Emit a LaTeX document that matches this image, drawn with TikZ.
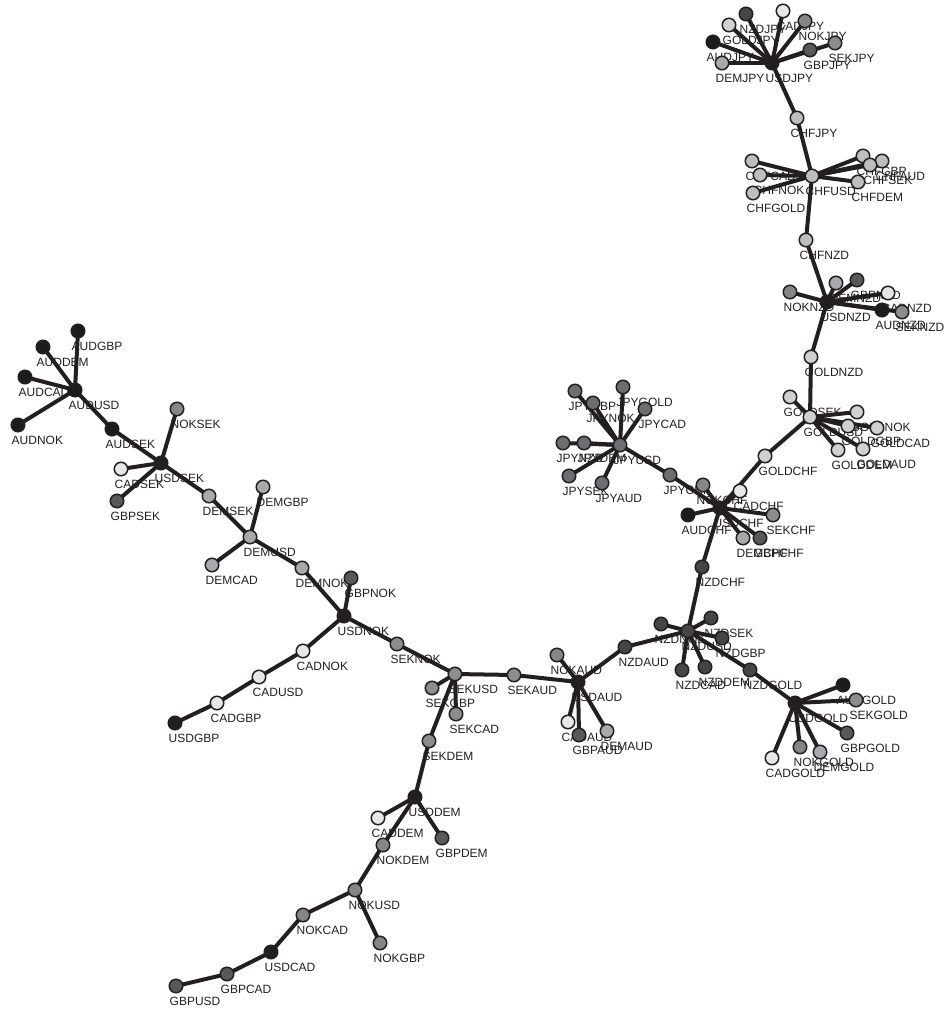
\documentclass[tikz,border=0pt]{standalone}
\usepackage{fontspec}
\setmainfont{Liberation Sans}
\usetikzlibrary{calc}
\pgfdeclarelayer{lab}
\pgfdeclarelayer{edg}
\pgfsetlayers{lab,edg,main}
\definecolor{cUSD}{HTML}{231F20}
\definecolor{cAUD}{HTML}{1E1B1C}
\definecolor{cGBP}{HTML}{58595B}
\definecolor{cNZD}{HTML}{454546}
\definecolor{cJPY}{HTML}{6D6E71}
\definecolor{cSEK}{HTML}{8C8D8F}
\definecolor{cNOK}{HTML}{858688}
\definecolor{cDEM}{HTML}{A7A9AC}
\definecolor{cCHF}{HTML}{BCBEC0}
\definecolor{cGOLD}{HTML}{CFD0D2}
\definecolor{cCAD}{HTML}{E6E7E8}
\definecolor{ink}{HTML}{231F20}
\tikzset{
  fxc/.style={circle,draw=ink,line width=1.5pt,minimum size=13.5pt,inner sep=0pt},
  fxl/.style={anchor=base west,inner sep=0pt,text=ink,font=\fontsize{12}{13}\selectfont},
  fxe/.style={draw=ink,line width=4pt}
}
\newcommand\fxnode[4]{%
  \node[fxc,fill=c#4] (#1) at (#2,#3) {};
  \begin{pgfonlayer}{lab}\node[fxl] (#1-l) at (#2-6.5,#3+19.5) {#1};\end{pgfonlayer}}
\begin{document}
\begin{tikzpicture}[x=1pt,y=-1pt]
\useasboundingbox (0,0) rectangle (944,1011);
% top cluster
\fxnode{USDJPY}{772}{63}{USD}
\fxnode{DEMJPY}{722}{63}{DEM}
\fxnode{AUDJPY}{713}{42}{AUD}
\fxnode{GOLDJPY}{729}{25}{GOLD}
\fxnode{NZDJPY}{746}{14}{NZD}
\fxnode{CADJPY}{783}{11}{CAD}
\fxnode{NOKJPY}{805}{21}{NOK}
\fxnode{GBPJPY}{810}{50}{GBP}
\fxnode{SEKJPY}{835}{43}{SEK}
\fxnode{CHFJPY}{797}{118}{CHF}
% CHF cluster
\fxnode{CHFUSD}{812}{176}{CHF}
\fxnode{CHFCAD}{752}{161}{CHF}
\fxnode{CHFNOK}{760}{175}{CHF}
\fxnode{CHFGOLD}{753}{193}{CHF}
\fxnode{CHFGBP}{863}{156}{CHF}
\fxnode{CHFAUD}{882}{161}{CHF}
\fxnode{CHFSEK}{870}{165}{CHF}
\fxnode{CHFDEM}{858}{182}{CHF}
\fxnode{CHFNZD}{806}{240}{CHF}
% NZD cluster
\fxnode{USDNZD}{827}{302}{USD}
\fxnode{NOKNZD}{790}{292}{NOK}
\fxnode{DEMNZD}{836}{283}{DEM}
\fxnode{GBPNZD}{857}{280}{GBP}
\fxnode{CADNZD}{888}{293}{CAD}
\fxnode{AUDNZD}{882}{310}{AUD}
\fxnode{SEKNZD}{902}{312}{SEK}
\fxnode{GOLDNZD}{811}{357}{GOLD}
% GOLD cluster
\fxnode{GOLDUSD}{810}{417}{GOLD}
\fxnode{GOLDSEK}{790}{397}{GOLD}
\fxnode{GOLDNOK}{857}{412}{GOLD}
\fxnode{GOLDGBP}{848}{426}{GOLD}
\fxnode{GOLDCAD}{877}{428}{GOLD}
\fxnode{GOLDDEM}{838}{450}{GOLD}
\fxnode{GOLDAUD}{863}{449}{GOLD}
\fxnode{GOLDCHF}{765}{456}{GOLD}
% JPY cluster
\fxnode{JPYUSD}{620}{445}{JPY}
\fxnode{JPYGBP}{575}{391}{JPY}
\fxnode{JPYNOK}{593}{403}{JPY}
\fxnode{JPYGOLD}{623}{387}{JPY}
\fxnode{JPYCAD}{645}{409}{JPY}
\fxnode{JPYNZD}{563}{443}{JPY}
\fxnode{JPYDEM}{584}{443}{JPY}
\fxnode{JPYSEK}{569}{476}{JPY}
\fxnode{JPYAUD}{602}{483}{JPY}
\fxnode{JPYCHF}{670}{475}{JPY}
% USDCHF cluster
\fxnode{USDCHF}{720}{508}{USD}
\fxnode{NOKCHF}{703}{485}{NOK}
\fxnode{CADCHF}{740}{491}{CAD}
\fxnode{AUDCHF}{688}{515}{AUD}
\fxnode{SEKCHF}{773}{515}{SEK}
\fxnode{DEMCHF}{743}{538}{DEM}
\fxnode{GBPCHF}{760}{538}{GBP}
\fxnode{NZDCHF}{702}{567}{NZD}
% NZDUSD cluster
\fxnode{NZDUSD}{688}{631}{NZD}
\fxnode{NZDNOK}{661}{624}{NZD}
\fxnode{NZDSEK}{711}{618}{NZD}
\fxnode{NZDGBP}{722}{638}{NZD}
\fxnode{NZDCAD}{682}{670}{NZD}
\fxnode{NZDDEM}{705}{667}{NZD}
\fxnode{NZDGOLD}{750}{670}{NZD}
\fxnode{NZDAUD}{625}{647}{NZD}
% USDGOLD cluster
\fxnode{USDGOLD}{795}{703}{USD}
\fxnode{AUDGOLD}{843}{685}{AUD}
\fxnode{SEKGOLD}{856}{700}{SEK}
\fxnode{GBPGOLD}{847}{733}{GBP}
\fxnode{NOKGOLD}{800}{747}{NOK}
\fxnode{DEMGOLD}{820}{752}{DEM}
\fxnode{CADGOLD}{772}{758}{CAD}
% AUD cluster
\fxnode{USDAUD}{578}{682}{USD}
\fxnode{NOKAUD}{557}{655}{NOK}
\fxnode{CADAUD}{568}{722}{CAD}
\fxnode{GBPAUD}{579}{735}{GBP}
\fxnode{DEMAUD}{607}{731}{DEM}
\fxnode{SEKAUD}{514}{675}{SEK}
% SEK cluster
\fxnode{SEKUSD}{455}{674}{SEK}
\fxnode{SEKGBP}{432}{688}{SEK}
\fxnode{SEKCAD}{456}{714}{SEK}
\fxnode{SEKDEM}{429}{741}{SEK}
\fxnode{SEKNOK}{397}{644}{SEK}
% NOK cluster
\fxnode{USDNOK}{344}{616}{USD}
\fxnode{GBPNOK}{351}{578}{GBP}
\fxnode{DEMNOK}{302}{568}{DEM}
\fxnode{CADNOK}{303}{651}{CAD}
\fxnode{CADUSD}{259}{677}{CAD}
\fxnode{CADGBP}{217}{703}{CAD}
\fxnode{USDGBP}{175}{723}{USD}
% DEM cluster
\fxnode{DEMUSD}{250}{537}{DEM}
\fxnode{DEMCAD}{212}{565}{DEM}
\fxnode{DEMGBP}{263}{487}{DEM}
\fxnode{DEMSEK}{209}{496}{DEM}
% USDSEK cluster
\fxnode{USDSEK}{161}{463}{USD}
\fxnode{NOKSEK}{177}{409}{NOK}
\fxnode{CADSEK}{121}{469}{CAD}
\fxnode{GBPSEK}{117}{501}{GBP}
\fxnode{AUDSEK}{112}{429}{AUD}
% AUD cluster
\fxnode{AUDUSD}{75}{390}{AUD}
\fxnode{AUDGBP}{78}{331}{AUD}
\fxnode{AUDDEM}{43}{347}{AUD}
\fxnode{AUDCAD}{25}{377}{AUD}
\fxnode{AUDNOK}{18}{425}{AUD}
% bottom
\fxnode{USDDEM}{415}{797}{USD}
\fxnode{CADDEM}{378}{818}{CAD}
\fxnode{GBPDEM}{442}{838}{GBP}
\fxnode{NOKDEM}{383}{845}{NOK}
\fxnode{NOKUSD}{355}{890}{NOK}
\fxnode{NOKCAD}{303}{915}{NOK}
\fxnode{NOKGBP}{380}{943}{NOK}
\fxnode{USDCAD}{271}{952}{USD}
\fxnode{GBPCAD}{227}{974}{GBP}
\fxnode{GBPUSD}{176}{986}{GBP}
\begin{pgfonlayer}{edg}
\foreach \a/\b in {USDJPY/DEMJPY,USDJPY/AUDJPY,USDJPY/GOLDJPY,USDJPY/NZDJPY,USDJPY/CADJPY,USDJPY/NOKJPY,USDJPY/GBPJPY,USDJPY/SEKJPY,USDJPY/CHFJPY,
CHFJPY/CHFUSD,CHFUSD/CHFCAD,CHFUSD/CHFNOK,CHFUSD/CHFGOLD,CHFUSD/CHFGBP,CHFUSD/CHFAUD,CHFUSD/CHFSEK,CHFUSD/CHFDEM,CHFUSD/CHFNZD,
CHFNZD/USDNZD,USDNZD/NOKNZD,USDNZD/DEMNZD,USDNZD/GBPNZD,USDNZD/CADNZD,USDNZD/AUDNZD,USDNZD/SEKNZD,USDNZD/GOLDNZD,
GOLDNZD/GOLDUSD,GOLDUSD/GOLDSEK,GOLDUSD/GOLDNOK,GOLDUSD/GOLDGBP,GOLDUSD/GOLDCAD,GOLDUSD/GOLDDEM,GOLDUSD/GOLDAUD,GOLDUSD/GOLDCHF,
GOLDCHF/USDCHF,USDCHF/JPYCHF,USDCHF/NOKCHF,USDCHF/CADCHF,USDCHF/AUDCHF,USDCHF/SEKCHF,USDCHF/DEMCHF,USDCHF/GBPCHF,USDCHF/NZDCHF,
JPYCHF/JPYUSD,JPYUSD/JPYGBP,JPYUSD/JPYNOK,JPYUSD/JPYGOLD,JPYUSD/JPYCAD,JPYUSD/JPYNZD,JPYUSD/JPYDEM,JPYUSD/JPYSEK,JPYUSD/JPYAUD,
NZDCHF/NZDUSD,NZDUSD/NZDNOK,NZDUSD/NZDSEK,NZDUSD/NZDGBP,NZDUSD/NZDCAD,NZDUSD/NZDDEM,NZDUSD/NZDGOLD,NZDUSD/NZDAUD,
NZDGOLD/USDGOLD,USDGOLD/AUDGOLD,USDGOLD/SEKGOLD,USDGOLD/GBPGOLD,USDGOLD/NOKGOLD,USDGOLD/DEMGOLD,USDGOLD/CADGOLD,
NZDAUD/USDAUD,USDAUD/NOKAUD,USDAUD/CADAUD,USDAUD/GBPAUD,USDAUD/DEMAUD,USDAUD/SEKAUD,
SEKAUD/SEKUSD,SEKUSD/SEKGBP,SEKUSD/SEKCAD,SEKUSD/SEKNOK,SEKUSD/SEKDEM,
SEKNOK/USDNOK,USDNOK/GBPNOK,USDNOK/DEMNOK,USDNOK/CADNOK,CADNOK/CADUSD,CADUSD/CADGBP,CADGBP/USDGBP,
DEMNOK/DEMUSD,DEMUSD/DEMCAD,DEMUSD/DEMGBP,DEMUSD/DEMSEK,
DEMSEK/USDSEK,USDSEK/NOKSEK,USDSEK/CADSEK,USDSEK/GBPSEK,USDSEK/AUDSEK,
AUDSEK/AUDUSD,AUDUSD/AUDGBP,AUDUSD/AUDDEM,AUDUSD/AUDCAD,AUDUSD/AUDNOK,
SEKDEM/USDDEM,USDDEM/CADDEM,USDDEM/GBPDEM,USDDEM/NOKDEM,
NOKDEM/NOKUSD,NOKUSD/NOKCAD,NOKUSD/NOKGBP,NOKCAD/USDCAD,USDCAD/GBPCAD,GBPCAD/GBPUSD}
  \draw[fxe] (\a.center) -- (\b.center);
\end{pgfonlayer}
\end{tikzpicture}
\end{document}
